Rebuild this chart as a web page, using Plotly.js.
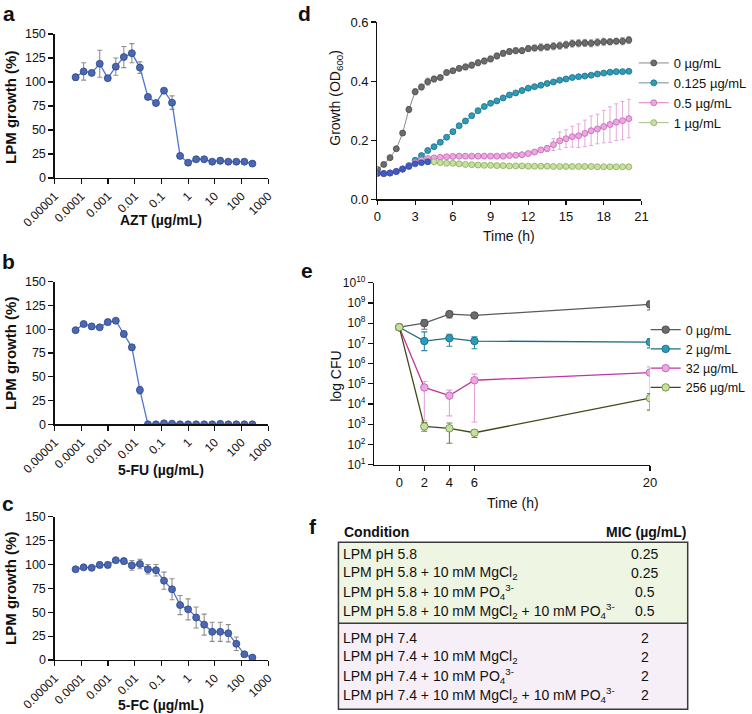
<!DOCTYPE html>
<html><head><meta charset="utf-8">
<script src="https://cdn.plot.ly/plotly-3.0.1.min.js"></script>
<style>html,body{margin:0;padding:0;background:#fff}#chart{width:752px;height:714px}</style>
</head><body><div id="chart"></div>
<script>
// ---------- Data: panels a-c (2-fold dilution series, µg/mL) ----------
const conc = [0.00006103515625,0.0001220703125,0.000244140625,0.00048828125,0.0009765625,
  0.001953125,0.00390625,0.0078125,0.015625,0.03125,0.0625,0.125,0.25,0.5,1,2,4,8,16,32,64,128,256];
const concTicks = [0.00001,0.0001,0.001,0.01,0.1,1,10,100,1000];
const concTickText = ['0.00001','0.0001','0.001','0.01','0.1','1','10','100','1000'];
const aztGrowth = [105,111,109.5,119,104,116,126,130,115,84.5,78,91,78.5,23,16,19.5,19.5,17,18,17,17,17,15];
const aztErr    = [3,9,2,14,2,9,11,10,6,2,2,2,7,2,1,1,1,1,3,1,1,1,1];
const fuGrowth  = [99,105.5,103,102,107.5,109,95,81,36,0,0,1,0.7,0,0,0,0,0,0.5,0,0,0,0];
const fuErr     = [1,1,3,1,3,1,3,3,4,0,0,0.5,0.5,0,0,0,0,0,0.5,0,0,0,0];
const fcGrowth  = [95,97,96.5,99.5,99.5,104.5,103.5,99,100.5,95,94,83,74,57.5,53,44.5,37,29.5,29.5,28,17,6,2.5];
const fcErr     = [1,1,1,3,3,1,3,5,5,5,6,9,11,10,11,11,11,10,10,9,7,2,1];

// ---------- Data: panel d (growth curves) ----------
const timeD = [0,0.5,1,1.5,2,2.5,3,3.5,4,4.5,5,5.5,6,6.5,7,7.5,8,8.5,9,9.5,10,10.5,11,11.5,12,12.5,
  13,13.5,14,14.5,15,15.5,16,16.5,17,17.5,18,18.5,19,19.5,20];
const odNames = ['0 µg/mL','0.125 µg/mL','0.5 µg/mL','1 µg/mL'];
const od0 = [0.101,0.118,0.141,0.171,0.224,0.304,0.364,0.380,0.398,0.407,
  0.412,0.429,0.435,0.443,0.448,0.454,0.462,0.468,0.475,0.485,
  0.494,0.500,0.503,0.503,0.510,0.512,0.514,0.515,0.518,0.520,
  0.523,0.527,0.528,0.529,0.528,0.531,0.533,0.533,0.535,0.535,0.539];
const od0Err = [0.003,0.004,0.004,0.005,0.006,0.010,0.010,0.010,0.012,0.010,
  0.008,0.008,0.008,0.008,0.010,0.010,0.010,0.010,0.010,0.010,
  0.010,0.010,0.010,0.010,0.010,0.010,0.012,0.010,0.012,0.012,
  0.012,0.012,0.012,0.012,0.012,0.012,0.012,0.010,0.010,0.012,0.012];
const od0125 = [0.088,0.087,0.089,0.094,0.103,0.114,0.132,0.148,0.165,0.178,
  0.193,0.210,0.229,0.249,0.265,0.283,0.300,0.314,0.325,0.333,
  0.343,0.353,0.360,0.368,0.376,0.381,0.386,0.392,0.397,0.403,
  0.407,0.412,0.415,0.417,0.420,0.424,0.427,0.430,0.432,0.432,0.433];
const od05 = [0.088,0.087,0.089,0.094,0.102,0.112,0.125,0.133,0.138,0.140,
  0.142,0.144,0.145,0.146,0.146,0.146,0.146,0.146,0.146,0.146,
  0.146,0.148,0.149,0.151,0.155,0.160,0.167,0.172,0.185,0.198,
  0.205,0.212,0.215,0.223,0.232,0.238,0.246,0.253,0.261,0.266,0.273];
const od05Err = [0.002,0.002,0.002,0.002,0.002,0.002,0.002,0.002,0.002,0.002,
  0.002,0.002,0.002,0.002,0.002,0.002,0.002,0.002,0.002,0.002,
  0.002,0.002,0.002,0.002,0.004,0.005,0.008,0.010,0.020,0.030,
  0.030,0.035,0.040,0.045,0.050,0.050,0.055,0.060,0.062,0.065,0.065];
const od1 = [0.088,0.087,0.089,0.094,0.102,0.111,0.120,0.124,0.127,0.127,
  0.124,0.122,0.122,0.120,0.118,0.117,0.116,0.115,0.115,0.114,
  0.114,0.113,0.113,0.113,0.112,0.112,0.112,0.112,0.111,0.111,
  0.111,0.111,0.111,0.111,0.111,0.110,0.110,0.110,0.110,0.110,0.110];

// ---------- Data: panel e (CFU time kill) ----------
const timeE = [0,2,4,6,20];
const cfuNames = ['0 µg/mL','2 µg/mL','32 µg/mL','256 µg/mL'];
const cfu0   = [6.3e7,1.0e8,2.8e8,2.4e8,8.5e8];
const cfu0Hi = [7.5e7,1.45e8,3.6e8,2.8e8,1.2e9];
const cfu0Lo = [5.0e7,5.0e7,1.8e8,2.0e8,4.5e8];
const cfu2   = [6.3e7,1.3e7,1.8e7,1.3e7,1.15e7];
const cfu2Hi = [7.5e7,3.7e7,2.8e7,2.1e7,1.66e7];
const cfu2Lo = [5.0e7,4.4e6,7.2e6,5.4e6,6.0e6];
const cfu32   = [6.3e7,6.6e4,2.6e4,1.5e5,3.6e5];
const cfu32Hi = [7.5e7,1.3e5,4.9e4,3.0e5,6.9e5];
const cfu32Lo = [5.0e7,1.5e3,2.6e3,1.3e3,2.0e4];
const cfu256   = [6.3e7,7.8e2,6.3e2,3.8e2,1.95e4];
const cfu256Hi = [7.5e7,1.23e3,1.15e3,5.1e2,3.3e4];
const cfu256Lo = [5.0e7,4.5e2,1.15e2,2.2e2,5.0e3];
const cfuTicks = [1e1,1e2,1e3,1e4,1e5,1e6,1e7,1e8,1e9,1e10];
const cfuTickText = ['10<sup>1</sup>','10<sup>2</sup>','10<sup>3</sup>','10<sup>4</sup>','10<sup>5</sup>',
  '10<sup>6</sup>','10<sup>7</sup>','10<sup>8</sup>','10<sup>9</sup>','10<sup>10</sup>'];

// ---------- Data: panel f (MIC table) ----------
const conditions = ['LPM pH 5.8','LPM pH 5.8 + 10 mM MgCl<sub>2</sub>','LPM pH 5.8 + 10 mM PO<sub>4</sub><sup>3-</sup>',
  'LPM pH 5.8 + 10 mM MgCl<sub>2</sub> + 10 mM PO<sub>4</sub><sup>3-</sup>',
  'LPM pH 7.4','LPM pH 7.4 + 10 mM MgCl<sub>2</sub>','LPM pH 7.4 + 10 mM PO<sub>4</sub><sup>3-</sup>',
  'LPM pH 7.4 + 10 mM MgCl<sub>2</sub> + 10 mM PO<sub>4</sub><sup>3-</sup>'];
const micValues = ['0.25','0.25','0.5','0.5','2','2','2','2'];
const groupOf = [0,0,0,0,1,1,1,1];

// ---------- helpers ----------
const W = 752, H = 714;
const px = v => v / W;
const py = v => 1 - v / H;
const FONT = 'Arial, "Liberation Sans", sans-serif';

const traces = [];
function doseTrace(y, err, xa, ya) {
  return {x: conc, y: y, xaxis: xa, yaxis: ya, type: 'scatter', mode: 'lines+markers', showlegend: false,
    line: {color: '#4d74d1', width: 1.3},
    marker: {size: 7, color: '#4a67b3', line: {color: '#2d4585', width: 0.8}},
    error_y: {type: 'data', array: err, visible: true, color: '#8e8e8e', thickness: 1.1, width: 2.5}};
}
traces.push(doseTrace(aztGrowth, aztErr, 'x', 'y'));
traces.push(doseTrace(fuGrowth, fuErr, 'x2', 'y2'));
traces.push(doseTrace(fcGrowth, fcErr, 'x3', 'y3'));

// panel d
const dStyles = [
  {line: '#8a8a8a', fill: '#6c6c6c', edge: '#4a4a4a', err: '#a0a0a0'},
  {line: '#6a8f98', fill: '#2d9cba', edge: '#1c6d84', err: '#9cc4cf'},
  {line: '#d47cc6', fill: '#eaa8df', edge: '#c562b6', err: '#e6a9dc'},
  {line: '#a6bf86', fill: '#c7e0a0', edge: '#8aa95c', err: '#c0d8a0'}
];
const dSeries = [od0, od0125, od05, od1];
const dErrs = [od0Err, null, od05Err, null];
dSeries.forEach((s, i) => {
  const st = dStyles[i];
  let xs = timeD, ys = s;
  if (i === 3) { xs = timeD.filter(t => t >= 4); ys = s.filter((v, k) => timeD[k] >= 4); }
  const tr = {x: xs, y: ys, xaxis: 'x4', yaxis: 'y4', type: 'scatter', mode: 'lines+markers', name: odNames[i],
    legend: 'legend', line: {color: st.line, width: 1},
    marker: {size: 6, color: st.fill, line: {color: st.edge, width: 0.8}}};
  if (dErrs[i]) tr.error_y = {type: 'data', array: dErrs[i], visible: true, color: st.err, thickness: 1, width: 2};
  traces.push(tr);
});
// early overlapping points of the 1 µg/mL series (drawn in blue in the original)
traces.push({x: timeD.filter(t => t <= 4), y: od1.filter((v, k) => timeD[k] <= 4), xaxis: 'x4', yaxis: 'y4',
  type: 'scatter', mode: 'lines+markers', showlegend: false,
  line: {color: '#3d5cc4', width: 1}, marker: {size: 6, color: '#3d5cc4', line: {color: '#2a44a0', width: 0.6}}});

// panel e
const eStyles = [
  {line: '#5a5a5a', fill: '#6c6c6c', edge: '#4a4a4a', err: '#6a6a6a'},
  {line: '#1f6c80', fill: '#2d9cba', edge: '#1c6d84', err: '#2a8aa4'},
  {line: '#c2339e', fill: '#eaa8df', edge: '#c562b6', err: '#e6a2d9'},
  {line: '#3c4a1c', fill: '#c7e0a0', edge: '#6f8c42', err: '#6f8050'}
];
const eSeries = [[cfu0,cfu0Hi,cfu0Lo],[cfu2,cfu2Hi,cfu2Lo],[cfu32,cfu32Hi,cfu32Lo],[cfu256,cfu256Hi,cfu256Lo]];
eSeries.forEach((s, i) => {
  const st = eStyles[i];
  traces.push({x: timeE, y: s[0], xaxis: 'x5', yaxis: 'y5', type: 'scatter', mode: 'lines+markers',
    name: cfuNames[i], legend: 'legend2', line: {color: st.line, width: 1.3},
    marker: {size: 7.5, color: st.fill, line: {color: st.edge, width: 0.9}},
    error_y: {type: 'data', symmetric: false, array: s[1].map((h, k) => h - s[0][k]),
      arrayminus: s[2].map((l, k) => s[0][k] - l), visible: true, color: st.err, thickness: 1.1, width: 3}});
});

// ---------- axes ----------
const axBase = {showline: true, linecolor: '#111', linewidth: 1.3, ticks: 'outside', ticklen: 5, tickwidth: 1.2,
  tickcolor: '#111', showgrid: false, zeroline: false, automargin: false, fixedrange: true};
function doseX(domain, anchor) {
  return Object.assign({}, axBase, {type: 'log', range: [-5, 3], domain: domain, anchor: anchor,
    tickvals: concTicks, ticktext: concTickText, tickangle: -45, tickfont: {size: 12, family: FONT, color: '#111'}});
}
function doseY(domain, anchor) {
  return Object.assign({}, axBase, {range: [0, 150], domain: domain, anchor: anchor, dtick: 25,
    tickfont: {size: 12.5, family: FONT, color: '#111'}});
}
const dxDom = [px(55), px(270)];

const layout = {
  width: W, height: H, margin: {l: 0, r: 0, t: 0, b: 0}, paper_bgcolor: '#fff', plot_bgcolor: 'rgba(0,0,0,0)',
  font: {family: FONT, color: '#111'},
  xaxis: doseX(dxDom, 'y'), yaxis: doseY([py(178), py(34)], 'x'),
  xaxis2: doseX(dxDom, 'y2'), yaxis2: doseY([py(424.3), py(281.7)], 'x2'),
  xaxis3: doseX(dxDom, 'y3'), yaxis3: doseY([py(660), py(516.7)], 'x3'),
  xaxis4: Object.assign({}, axBase, {range: [0, 21], dtick: 3, domain: [px(380), px(645.7)], anchor: 'y4',
    ticklen: 4.5, tickfont: {size: 13, family: FONT, color: '#111'}}),
  yaxis4: Object.assign({}, axBase, {range: [0, 0.6], dtick: 0.2, tickformat: '.1f', domain: [py(199.3), py(22)],
    anchor: 'x4', tickfont: {size: 13, family: FONT, color: '#111'}}),
  xaxis5: Object.assign({}, axBase, {range: [-2, 20], tickvals: timeE, domain: [px(376.7), px(654.3)], anchor: 'y5',
    tickfont: {size: 13, family: FONT, color: '#111'}}),
  yaxis5: Object.assign({}, axBase, {type: 'log', range: [1, 10], tickvals: cfuTicks, ticktext: cfuTickText,
    domain: [py(464.7), py(282.7)], anchor: 'x5', tickfont: {size: 12, family: FONT, color: '#111'}}),
  legend: {x: px(638), y: py(48), xanchor: 'left', yanchor: 'top', bgcolor: 'rgba(0,0,0,0)',
    font: {size: 13, family: FONT, color: '#111'}, itemwidth: 30, tracegroupgap: 0},
  legend2: {x: px(650), y: py(315), xanchor: 'left', yanchor: 'top', bgcolor: 'rgba(0,0,0,0)',
    font: {size: 12.5, family: FONT, color: '#111'}, itemwidth: 30, tracegroupgap: 0},
  annotations: [], shapes: []
};

const ann = layout.annotations;
function label(txt, x, y, size, opts) {
  ann.push(Object.assign({text: txt, x: px(x), y: py(y), xref: 'paper', yref: 'paper', showarrow: false,
    xanchor: 'center', yanchor: 'middle', font: {size: size, family: FONT, color: '#111'}}, opts || {}));
}
// panel letters
label('<b>a</b>', 9, 13, 21); label('<b>b</b>', 9, 261, 21); label('<b>c</b>', 8, 503, 21);
label('<b>d</b>', 307, 13, 21); label('<b>e</b>', 309, 270, 21); label('<b>f</b>', 315, 526, 21);
// axis titles a-c
label('<b>AZT (µg/mL)</b>', 162, 220, 14); label('<b>5-FU (µg/mL)</b>', 162, 470, 14); label('<b>5-FC (µg/mL)</b>', 162, 705, 14);
[107, 353, 588].forEach(y => label('<b>LPM growth (%)</b>', 10, y, 15, {textangle: -90}));
// panel d & e titles
label('Growth (OD<sub>600</sub>)', 338, 98, 14, {textangle: -90});
label('Time (h)', 512, 236, 14);
label('log CFU', 338, 376, 14, {textangle: -90});
label('Time (h)', 516, 503, 14);

// ---------- panel f table ----------
const tL = 340.7, tR = 692.3, tTop = 542.3, tMid = 623.3, tBot = 709.3;
layout.shapes.push({type: 'rect', xref: 'paper', yref: 'paper', x0: px(tL), x1: px(tR), y0: py(tTop), y1: py(tMid),
  fillcolor: '#eef5e2', line: {width: 0}, layer: 'below'});
layout.shapes.push({type: 'rect', xref: 'paper', yref: 'paper', x0: px(tL), x1: px(tR), y0: py(tMid), y1: py(tBot),
  fillcolor: '#f6eff7', line: {width: 0}, layer: 'below'});
layout.shapes.push({type: 'rect', xref: 'paper', yref: 'paper', x0: px(tL), x1: px(tR), y0: py(tTop), y1: py(tBot),
  line: {color: '#3a3a3a', width: 1.5}});
layout.shapes.push({type: 'line', xref: 'paper', yref: 'paper', x0: px(tL), x1: px(tR), y0: py(tMid), y1: py(tMid),
  line: {color: '#3a3a3a', width: 1.5}});
label('<b>Condition</b>', 344, 532, 14, {xanchor: 'left'});
label('<b>MIC (µg/mL)</b>', 650, 532, 14);
conditions.forEach((c, i) => {
  const y = 553.5 + i * 19.1 + groupOf[i] * 7.7;
  label(c, 343, y, 14, {xanchor: 'left'});
  label(micValues[i], 649, y, 14);
});

Plotly.newPlot('chart', traces, layout, {staticPlot: true, displayModeBar: false});
</script></body></html>
